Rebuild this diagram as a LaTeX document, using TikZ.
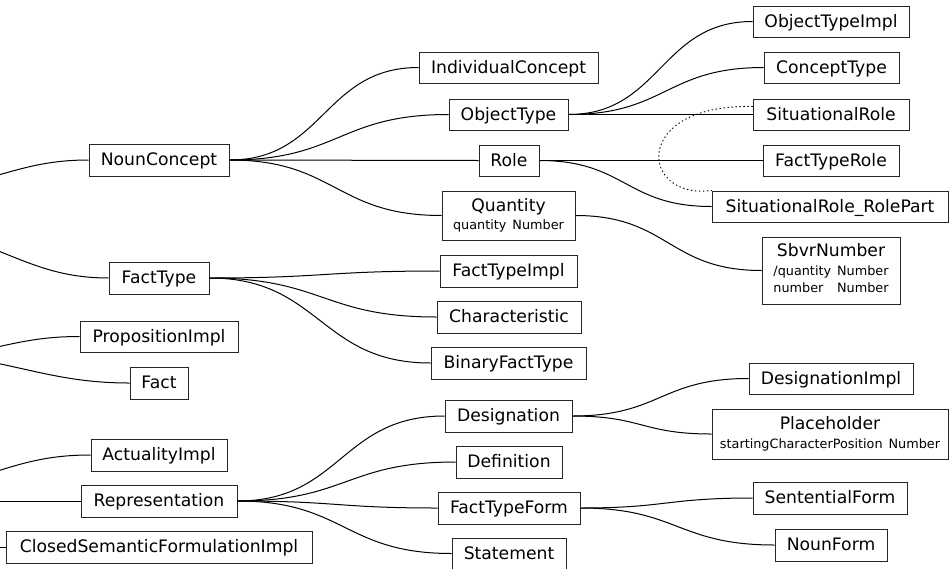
\documentclass[tikz,border=0pt]{standalone}
\usepackage{fontspec}
\setmainfont{DejaVu Sans}
\usetikzlibrary{calc}
\tikzset{
  clsbox/.style={draw=black!85, line width=1pt, inner sep=0pt, align=center,
    font=\fontsize{17.2}{20}\selectfont},
  oneline/.style={text height=12.6pt, text depth=1.2pt},
  lnk/.style={line width=1pt, black},
  dotlnk/.style={line width=1pt, black, dash pattern=on 0.8pt off 3.2pt, line cap=round},
}
\newcommand\mkbox[6]{\node[clsbox, oneline, minimum width=#4pt, minimum height=#5pt] (#1) at (#2,#3) {#6};}
\newcommand\mklink[2]{\draw[lnk] let \p1=(#1.east), \p2=(#2.west), \n1={0.5*(\x2-\x1)} in
  (\p1) .. controls +(\n1,0pt) and +(-\n1,0pt) .. (\p2);}
\newcommand\smallfnt{\fontsize{12.8}{17}\selectfont}
\begin{document}
\begin{tikzpicture}[x=1pt,y=-1pt]
\useasboundingbox (0,0) rectangle (949,568);
\clip (0,0) rectangle (949,568);
% left column
\mkbox{nc}{159}{160}{140}{32}{NounConcept}
\mkbox{ft}{159}{278}{100}{32}{FactType}
\mkbox{pi}{159}{336.5}{158}{31}{PropositionImpl}
\mkbox{fact}{159}{383}{58}{32}{Fact}
\mkbox{ai}{159}{455}{136}{32}{ActualityImpl}
\mkbox{rep}{159}{501}{156}{32}{Representation}
\mkbox{csf}{159}{547}{306}{32}{ClosedSemanticFormulationImpl}
% middle column
\mkbox{ic}{508.5}{67.5}{179}{31}{IndividualConcept}
\mkbox{ot}{508.5}{114.5}{119}{31}{ObjectType}
\mkbox{role}{509}{160.5}{60}{31}{Role}
\node[clsbox, minimum width=133pt, minimum height=49pt] (qty) at (508.5,215.5)
  {Quantity\\[-2pt]{\smallfnt quantity\hspace{6pt}Number}};
\mkbox{fti}{508.5}{271}{137}{32}{FactTypeImpl}
\mkbox{char}{509}{317}{144}{32}{Characteristic}
\mkbox{bft}{508.5}{363}{155}{32}{BinaryFactType}
\mkbox{des}{508.5}{416}{127}{32}{Designation}
\mkbox{def}{509}{462}{106}{32}{Definition}
\mkbox{ftf}{509}{508}{142}{32}{FactTypeForm}
\mkbox{stm}{509}{553.5}{114}{31}{Statement}
% right column
\mkbox{oti}{831}{21.5}{156}{31}{ObjectTypeImpl}
\mkbox{ct}{831.5}{67.5}{135}{31}{ConceptType}
\mkbox{sr}{831}{114.5}{156}{31}{SituationalRole}
\mkbox{ftr}{831}{160.5}{136}{31}{FactTypeRole}
\mkbox{srrp}{830}{206.5}{236}{31}{SituationalRole\_RolePart}
\node[clsbox, minimum width=138pt, minimum height=67pt] (sbvr) at (831,270.5)
  {SbvrNumber\\[-1pt]{\smallfnt\begin{tabular}[t]{@{}l@{\hspace{6pt}}l@{}}/quantity & Number\\ number & Number\end{tabular}}};
\mkbox{desi}{831}{378.5}{164}{31}{DesignationImpl}
\node[clsbox, minimum width=236pt, minimum height=50pt] (ph) at (830,434)
  {Placeholder\\[-1.5pt]{\smallfnt startingCharacterPosition\hspace{6pt}Number}};
\mkbox{sf}{830}{498}{154}{32}{SententialForm}
\mkbox{nf}{831}{545}{112}{32}{NounForm}
% incoming edges from outside the picture
\coordinate (inNC) at (-30,183);
\coordinate (inFT) at (-30,240);
\coordinate (inPI) at (-30,353);
\coordinate (inFA) at (-30,358);
\coordinate (inAI) at (-30,480);
\coordinate (inRE) at (-30,501);
\coordinate (inCS) at (-30,547);
\draw[lnk] (inNC) to[out=15,in=180] (nc.west);
\draw[lnk] (inFT) to[out=-20,in=180] (ft.west);
\draw[lnk] (inPI) to[out=12,in=180] (pi.west);
\draw[lnk] (inFA) to[out=-10,in=180] (fact.west);
\draw[lnk] (inAI) to[out=18,in=180] (ai.west);
\draw[lnk] (inRE) -- (rep.west);
\draw[lnk] (inCS) -- (csf.west);
% tree edges
\mklink{nc}{ic}
\mklink{nc}{ot}
\mklink{nc}{role}
\mklink{nc}{qty}
\mklink{ot}{oti}
\mklink{ot}{ct}
\mklink{ot}{sr}
\mklink{role}{ftr}
\mklink{role}{srrp}
\mklink{qty}{sbvr}
\mklink{ft}{fti}
\mklink{ft}{char}
\mklink{ft}{bft}
\mklink{rep}{des}
\mklink{rep}{def}
\mklink{rep}{ftf}
\mklink{rep}{stm}
\mklink{des}{desi}
\mklink{des}{ph}
\mklink{ftf}{sf}
\mklink{ftf}{nf}
% dotted association
\coordinate (srd) at ($(sr.west)+(0,-8)$);
\draw[dotlnk] (srd) .. controls (630,104) and (640,200) .. (srrp.north west);
\end{tikzpicture}
\end{document}
